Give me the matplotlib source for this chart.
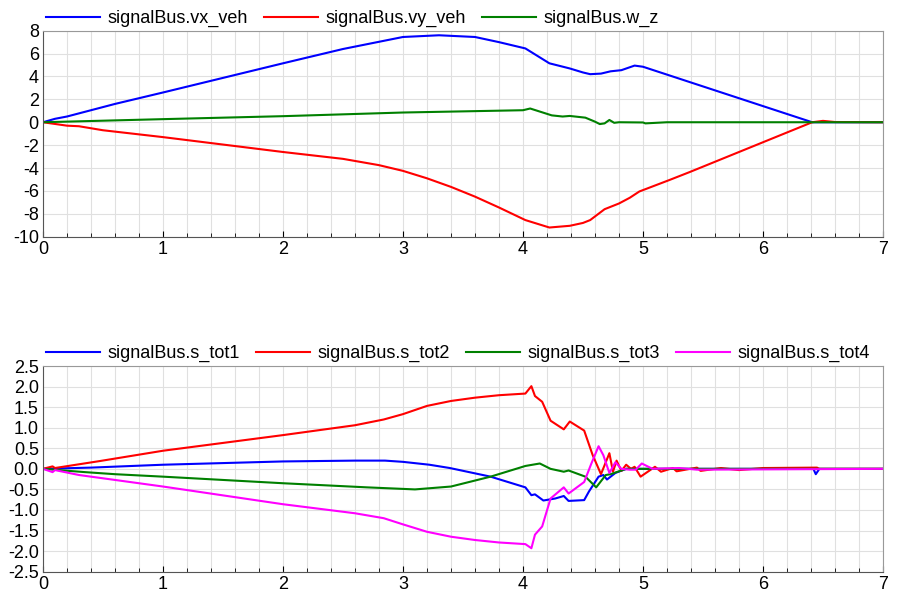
import matplotlib.pyplot as plt
from matplotlib.ticker import MultipleLocator

plt.rcParams['font.family'] = ['Liberation Sans', 'DejaVu Sans']
plt.rcParams['axes.unicode_minus'] = False

# top plot: vehicle velocities
t_vx = [0, 0.1, 0.2, 0.6, 1.0, 2.0, 2.5, 3.0, 3.3, 3.6, 3.8, 4.02, 4.12, 4.22, 4.39, 4.5, 4.56, 4.65, 4.73, 4.82, 4.93, 5.0, 6.41, 7.0]
vx_veh = [0, 0.3, 0.5, 1.6, 2.6, 5.15, 6.4, 7.45, 7.6, 7.45, 7.0, 6.45, 5.8, 5.15, 4.7, 4.35, 4.2, 4.25, 4.45, 4.55, 4.95, 4.85, 0, 0]

t_vy = [0, 0.2, 0.3, 0.5, 1.0, 2.0, 2.5, 2.8, 3.0, 3.2, 3.4, 3.6, 3.8, 4.02, 4.22, 4.39, 4.5, 4.56, 4.68, 4.8, 4.89, 4.97, 5.22, 5.39, 6.41, 6.5, 6.6, 7.0]
vy_veh = [0, -0.3, -0.35, -0.7, -1.3, -2.6, -3.2, -3.75, -4.25, -4.9, -5.65, -6.5, -7.45, -8.55, -9.2, -9.05, -8.8, -8.55, -7.6, -7.1, -6.6, -6.05, -5.05, -4.35, 0, 0.12, 0.02, 0]

t_wz = [0, 1.0, 2.0, 3.0, 3.5, 4.0, 4.06, 4.12, 4.24, 4.33, 4.39, 4.52, 4.6, 4.64, 4.68, 4.72, 4.76, 4.8, 5.0, 5.02, 5.2, 7.0]
w_z = [0, 0.27, 0.53, 0.85, 0.95, 1.05, 1.2, 1.0, 0.6, 0.5, 0.55, 0.4, 0.05, -0.16, -0.1, 0.2, -0.05, 0.0, -0.02, -0.1, 0.0, 0.0]

# bottom plot: tyre slip
t_s1 = [0, 0.4, 1.0, 2.0, 2.6, 2.85, 3.0, 3.22, 3.39, 3.73, 4.02, 4.07, 4.1, 4.17, 4.27, 4.34, 4.38, 4.51, 4.55, 4.63, 4.67, 4.7, 4.77, 4.86, 6.42, 6.44, 6.47, 7.0]
s_tot1 = [0, 0.03, 0.1, 0.18, 0.2, 0.2, 0.17, 0.1, 0.02, -0.19, -0.45, -0.64, -0.62, -0.77, -0.72, -0.66, -0.78, -0.76, -0.55, -0.19, -0.15, -0.26, -0.1, 0.0, 0.0, -0.13, 0.0, 0.0]

t_s2 = [0, 0.08, 0.1, 0.475, 1.0, 2.0, 2.6, 2.84, 3.0, 3.2, 3.4, 3.6, 3.8, 4.02, 4.07, 4.1, 4.16, 4.23, 4.34, 4.39, 4.51, 4.58, 4.65, 4.72, 4.75, 4.78, 4.82, 4.86, 4.9, 4.93, 4.98, 5.05, 5.1, 5.15, 5.25, 5.28, 5.45, 5.48, 5.65, 5.8, 6.0, 6.45, 6.47, 7.0]
s_tot2 = [0, 0.06, 0.02, 0.19, 0.44, 0.82, 1.06, 1.2, 1.33, 1.53, 1.65, 1.73, 1.79, 1.83, 2.01, 1.77, 1.63, 1.17, 0.96, 1.15, 0.93, 0.34, -0.13, 0.38, -0.07, 0.2, -0.05, 0.1, 0.0, 0.05, -0.19, -0.05, 0.05, -0.07, 0.02, -0.06, 0.03, -0.05, 0.02, -0.03, 0.02, 0.03, 0.0, 0.0]

t_s3 = [0, 0.35, 0.6, 1.0, 2.0, 2.7, 3.1, 3.4, 3.73, 4.02, 4.14, 4.23, 4.34, 4.38, 4.52, 4.61, 4.69, 4.73, 4.86, 7.0]
s_tot3 = [0, -0.08, -0.13, -0.19, -0.35, -0.45, -0.5, -0.43, -0.19, 0.07, 0.13, 0.0, -0.07, -0.04, -0.19, -0.45, -0.15, -0.13, 0.0, 0.0]

t_s4 = [0, 0.08, 0.1, 0.3, 0.45, 1.0, 2.0, 2.6, 2.84, 3.0, 3.2, 3.4, 3.6, 3.8, 4.02, 4.07, 4.1, 4.16, 4.23, 4.34, 4.38, 4.51, 4.57, 4.63, 4.67, 4.72, 4.77, 4.82, 4.89, 4.94, 4.99, 5.08, 5.3, 5.45, 7.0]
s_tot4 = [0, -0.08, -0.03, -0.15, -0.21, -0.43, -0.86, -1.08, -1.2, -1.35, -1.53, -1.65, -1.73, -1.79, -1.83, -1.93, -1.6, -1.4, -0.72, -0.45, -0.6, -0.32, 0.13, 0.55, 0.33, -0.1, 0.16, 0.0, -0.02, -0.02, 0.13, 0.0, 0.02, -0.02, 0.0]

fig = plt.figure(figsize=(9.01, 5.96), dpi=100)
ax1 = fig.add_axes([0.0477, 0.6029, 0.9323, 0.3456])
ax2 = fig.add_axes([0.0477, 0.0408, 0.9323, 0.3451])

ax1.plot(t_vx, vx_veh, color='blue', lw=1.5, label='signalBus.vx_veh')
ax1.plot(t_vy, vy_veh, color='red', lw=1.5, label='signalBus.vy_veh')
ax1.plot(t_wz, w_z, color='green', lw=1.5, label='signalBus.w_z')
ax1.set_ylim(-10, 8)
ax1.yaxis.set_major_locator(MultipleLocator(2))

ax2.plot(t_s1, s_tot1, color='blue', lw=1.5, label='signalBus.s_tot1')
ax2.plot(t_s2, s_tot2, color='red', lw=1.5, label='signalBus.s_tot2')
ax2.plot(t_s3, s_tot3, color='green', lw=1.5, label='signalBus.s_tot3')
ax2.plot(t_s4, s_tot4, color='magenta', lw=1.5, label='signalBus.s_tot4')
ax2.set_ylim(-2.5, 2.5)
ax2.yaxis.set_major_locator(MultipleLocator(0.5))
ax2.yaxis.set_major_formatter('{x:.1f}')

for ax, ncol in [(ax1, 3), (ax2, 4)]:
    ax.set_xlim(0, 7)
    ax.xaxis.set_major_locator(MultipleLocator(1))
    ax.xaxis.set_minor_locator(MultipleLocator(0.2))
    ax.grid(True, which='major', axis='y', color='#e0e0e0', lw=0.8)
    ax.grid(True, which='both', axis='x', color='#e0e0e0', lw=0.8)
    ax.set_axisbelow(True)
    ax.tick_params(labelsize=13, direction='in', length=4, pad=3)
    ax.tick_params(which='minor', direction='in', length=3)
    ax.tick_params(axis='y', left=False)
    for side in ['left', 'bottom']:
        ax.spines[side].set_color('#555555')
    for side in ['top', 'right']:
        ax.spines[side].set_color('#999999')
    ax.legend(loc='lower left', bbox_to_anchor=(-0.001, 1.0), ncol=ncol, frameon=False,
              fontsize=13, handlelength=3.0, handletextpad=0.4, columnspacing=0.9,
              borderaxespad=0.0, borderpad=0.2)

fig.savefig('out.png')
